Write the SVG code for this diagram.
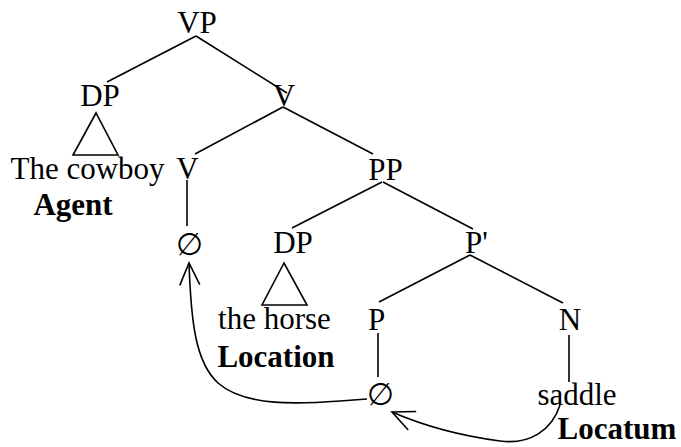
<svg xmlns="http://www.w3.org/2000/svg" width="681" height="447" viewBox="0 0 681 447">
<style>
text{font-family:"Liberation Serif","Times New Roman",serif;font-size:31px;fill:#000;text-anchor:middle}
.b{font-weight:bold}
.ln{stroke:#000;stroke-width:1.6;fill:none}
</style>
<defs>
<marker id="ah" markerUnits="userSpaceOnUse" markerWidth="30" markerHeight="30" refX="0" refY="0" viewBox="-25 -15 30 30" orient="auto" overflow="visible">
<path d="M-22,-10 L0,0 L-22,10" fill="none" stroke="#000" stroke-width="1.6"/>
</marker>
</defs>
<rect width="681" height="447" fill="#fff"/>
<g id="connectors" class="ln">
<line x1="196" y1="36" x2="107" y2="82"/>
<line x1="196" y1="36" x2="287" y2="93"/>
<line x1="283" y1="107" x2="195" y2="154"/>
<line x1="283" y1="107" x2="373" y2="154"/>
<line x1="187" y1="180" x2="187" y2="226"/>
<line x1="382" y1="182" x2="292" y2="228"/>
<line x1="383" y1="182" x2="473" y2="229"/>
<line x1="470" y1="255" x2="379" y2="302"/>
<line x1="470" y1="255" x2="563" y2="303"/>
<line x1="378" y1="333" x2="378" y2="377"/>
<line x1="569" y1="335" x2="569" y2="382"/>
<path d="M367,399 L340,401 C300,404 245,407 218,383 C195,362 191,320 189,263" marker-end="url(#ah)"/>
<path d="M560,405 C552,430 530,445 500,441 C462,436 422,425 392,412" marker-end="url(#ah)"/>
</g>
<g id="VP"><text x="197" y="33">VP</text></g>
<g id="DP1"><text x="100" y="106">DP</text><polygon class="ln" points="96,113 73,155 118,155"/></g>
<g id="cowboy"><text x="87.5" y="179">The cowboy</text><text class="b" x="73" y="215">Agent</text></g>
<g id="Vbar"><text x="284" y="106">V</text></g>
<g id="V"><text x="187.5" y="179">V</text></g>
<g id="null1"><text x="189.5" y="255">∅</text></g>
<g id="PP"><text x="385.5" y="180">PP</text></g>
<g id="DP2"><text x="293" y="253">DP</text><polygon class="ln" points="284,263 262,305 307,305"/></g>
<g id="horse"><text x="274.5" y="329">the horse</text><text class="b" x="276" y="367">Location</text></g>
<g id="Pbar"><text x="476.5" y="253">P'</text></g>
<g id="P"><text x="376.5" y="330">P</text></g>
<g id="N"><text x="570" y="330">N</text></g>
<g id="null2"><text x="380.5" y="405">∅</text></g>
<g id="saddle"><text x="577" y="405">saddle</text><text class="b" x="617" y="439">Locatum</text></g>
</svg>
